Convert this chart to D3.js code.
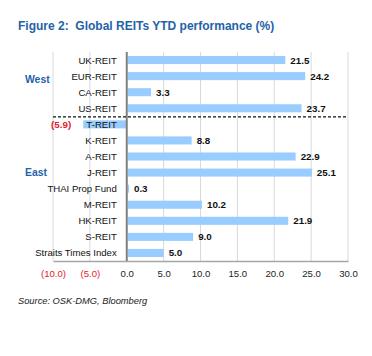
<!DOCTYPE html>
<html><head><meta charset="utf-8">
<script src="https://cdn.jsdelivr.net/npm/d3@7"></script>
<style>body{margin:0;background:#fff;}svg{display:block;font-family:"Liberation Sans",Arial,sans-serif;}</style>
</head><body>
<svg id="c" width="372" height="356"></svg>
<script>
const categories = ["UK-REIT","EUR-REIT","CA-REIT","US-REIT","T-REIT","K-REIT","A-REIT","J-REIT","THAI Prop Fund","M-REIT","HK-REIT","S-REIT","Straits Times Index"];
const values = [21.5,24.2,3.3,23.7,-5.9,8.8,22.9,25.1,0.3,10.2,21.9,9.0,5.0];
const tickValues = [-10,-5,0,5,10,15,20,25,30];
const tickLabels = ["(10.0)","(5.0)","0.0","5.0","10.0","15.0","20.0","25.0","30.0"];
const groups = [{name:"West", at:"EUR-REIT", off:0.2},{name:"East", at:"J-REIT", off:0}];
const title = "Figure 2:  Global REITs YTD performance (%)";
const source = "Source: OSK-DMG, Bloomberg";

const svg = d3.select("#c");
const x = d3.scaleLinear().domain([-10,30]).range([53,348]);
const y = d3.scaleBand().domain(categories).range([52,261]).paddingInner(0.5).paddingOuter(0.25);
const BLUE = "#1f63a8", RED = "#e3222b", BAR = "#99ccff";
const fmt = v => v < 0 ? "(" + Math.abs(v).toFixed(1) + ")" : v.toFixed(1);

svg.append("text").attr("x",18).attr("y",30).attr("fill",BLUE).style("white-space","pre")
  .attr("font-weight","bold").attr("font-size","12px").text(title);

// gridlines
svg.append("g").selectAll("line").data(tickValues.filter(d=>d!==0)).join("line")
  .attr("x1",d=>x(d)).attr("x2",d=>x(d)).attr("y1",52).attr("y2",261)
  .attr("stroke","#d9d9d9").attr("stroke-width",1);

// bottom axis
const ax = d3.axisBottom(x).tickValues(tickValues).tickSize(0).tickPadding(9)
  .tickFormat((d,i)=>tickLabels[i]);
const gA = svg.append("g").attr("transform","translate(0,261)").call(ax);
gA.select(".domain").attr("stroke","#a6a6a6").attr("stroke-width",1.5);
gA.selectAll("text").attr("font-size","9.6px").attr("font-family","Liberation Sans, Arial, sans-serif")
  .attr("fill",d=>d<0?RED:"#222");

// bars
svg.append("g").selectAll("rect").data(values).join("rect")
  .attr("x",(d)=>d<0?x(d):x(0)+1)
  .attr("width",d=>Math.abs(x(d)-x(0)) - (d<0?0:1))
  .attr("y",(d,i)=>y(categories[i]))
  .attr("height",y.bandwidth())
  .attr("fill",BAR);

// category labels
svg.append("g").selectAll("text").data(categories).join("text")
  .attr("x",x(0)-10).attr("y",d=>y(d)+y.bandwidth()/2+3.5)
  .attr("text-anchor","end").attr("font-size","9.6px").attr("fill","#111").text(d=>d);

// zero axis
svg.append("line").attr("x1",x(0)).attr("x2",x(0)).attr("y1",52).attr("y2",261)
  .attr("stroke","#7f7f7f").attr("stroke-width",2);

// value labels
svg.append("g").selectAll("text").data(values).join("text")
  .attr("x",d=>d<0?x(d)-12:x(d)+5)
  .attr("y",(d,i)=>y(categories[i])+y.bandwidth()/2+3.5)
  .attr("text-anchor",d=>d<0?"end":"start")
  .attr("font-size","9.8px").attr("font-weight","bold")
  .attr("fill",d=>d<0?RED:"#111").text(fmt);

// divider
const yd = y("US-REIT") + y.step()*0.78;
svg.append("line").attr("x1",x(-10)).attr("x2",x(30)).attr("y1",yd).attr("y2",yd)
  .attr("stroke","#111").attr("stroke-width",1.3).attr("stroke-dasharray","3,2");

// group labels
svg.append("g").selectAll("text").data(groups).join("text")
  .attr("x",25).attr("y",d=>y(d.at)+y.bandwidth()/2+y.step()*d.off+3.8)
  .attr("font-size","10.4px").attr("font-weight","bold").attr("fill",BLUE).text(d=>d.name);

svg.append("text").attr("x",18).attr("y",304).attr("font-size","9.3px")
  .attr("font-style","italic").attr("fill","#222").text(source);
</script>
</body></html>
